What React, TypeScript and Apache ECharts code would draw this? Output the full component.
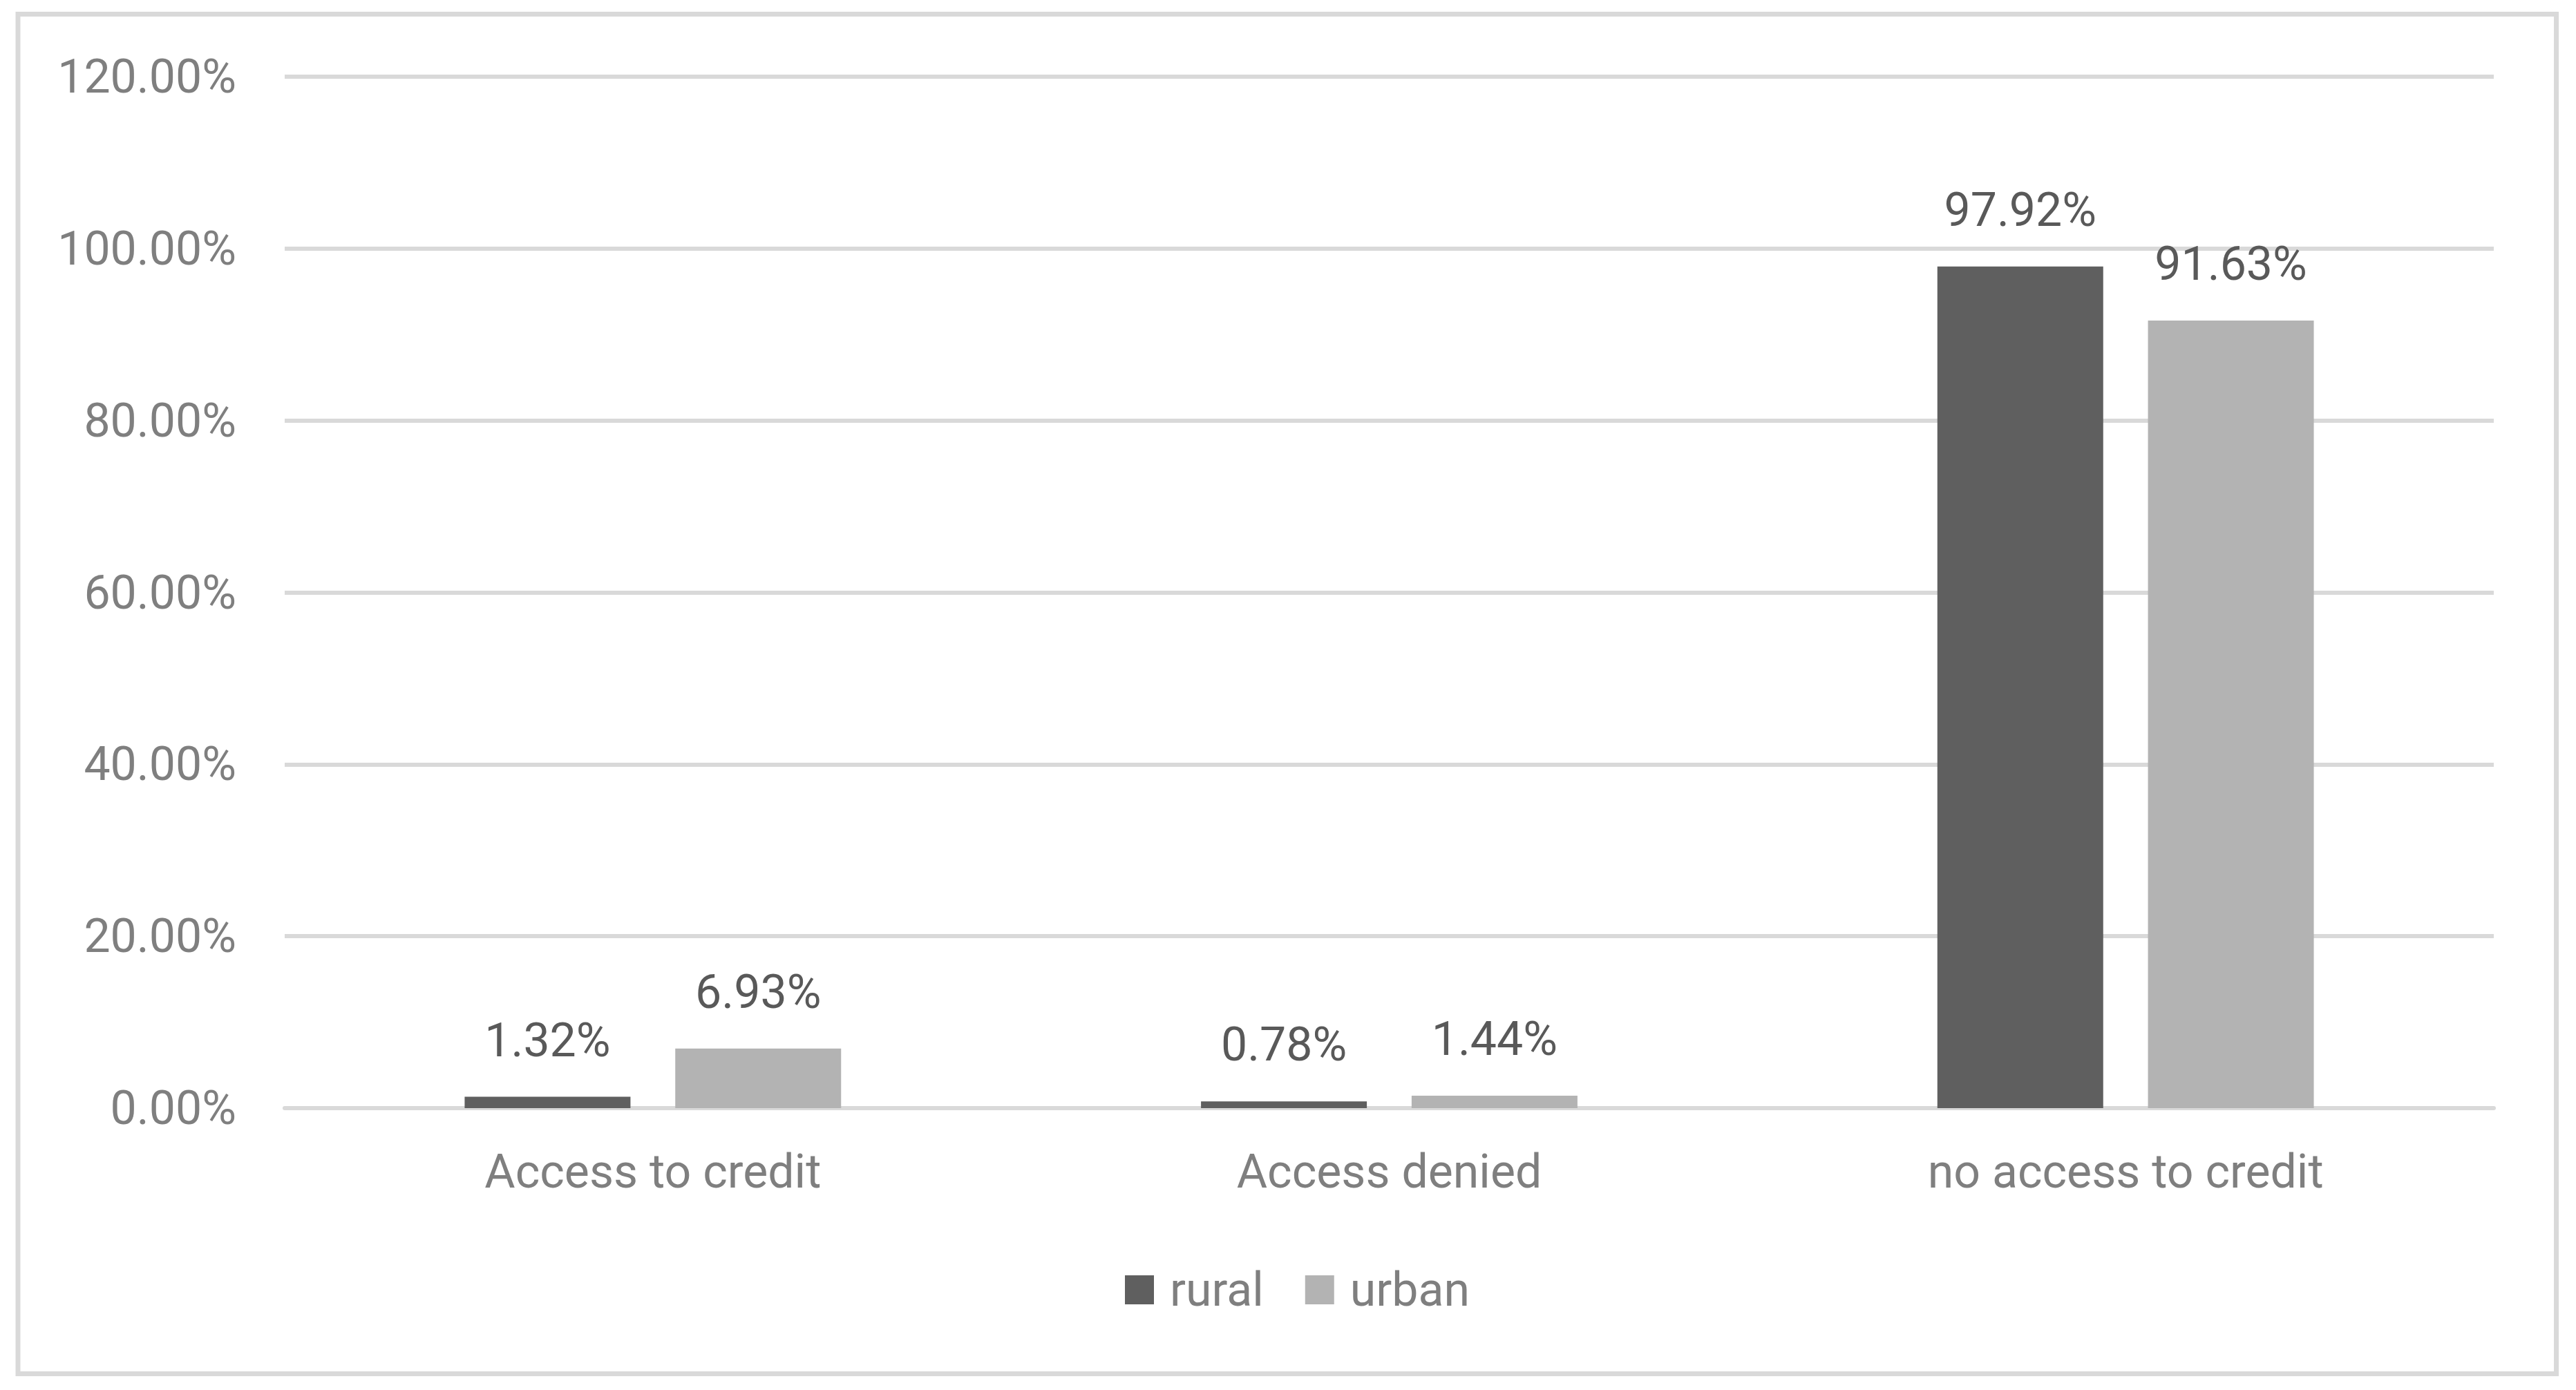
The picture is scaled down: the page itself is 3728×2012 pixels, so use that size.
import React, { useEffect, useRef } from "react";
import * as echarts from "echarts";

const categories = ["Access to credit", "Access denied", "no access to credit"];
const seriesNames = ["rural", "urban"];
const ruralValues = [1.32, 0.78, 97.92];
const urbanValues = [6.93, 1.44, 91.63];
const yTicks = { min: 0, max: 120, interval: 20 };
const colors = ["#5f5f5f", "#b3b3b3"];

const W = 3728;
const H = 2012;
const FONT = "Roboto";

export default function App() {
  const ref = useRef<HTMLDivElement>(null);
  useEffect(() => {
    if (!ref.current) return;
    const chart = echarts.init(ref.current, undefined, { renderer: "svg", width: W, height: H });
    const pct = (v: number) => `${Number(v).toFixed(2)}%`;
    const labelCfg = {
      show: true,
      position: "top",
      distance: 48,
      color: "#595959",
      fontSize: 68,
      fontFamily: FONT,
      formatter: (p: any) => pct(p.value),
    };
    chart.setOption({
      animation: false,
      backgroundColor: "#ffffff",
      grid: { left: 412, right: 119, top: 111, bottom: 408, containLabel: false },
      legend: {
        data: seriesNames,
        left: 1628,
        top: 1833,
        padding: 0,
        itemWidth: 42,
        itemHeight: 42,
        itemGap: 60,
        icon: "rect",
        textStyle: { color: "#7f7f7f", fontSize: 68, fontFamily: FONT, padding: [0, 0, 0, 18] },
      },
      xAxis: {
        type: "category",
        data: categories,
        axisLine: { show: true, lineStyle: { color: "#d9d9d9", width: 6 } },
        axisTick: { show: false },
        axisLabel: { color: "#7f7f7f", fontSize: 68, fontFamily: FONT, margin: 58 },
        splitLine: { show: false },
      },
      yAxis: {
        type: "value",
        min: yTicks.min,
        max: yTicks.max,
        interval: yTicks.interval,
        axisLine: { show: false },
        axisTick: { show: false },
        axisLabel: { color: "#7f7f7f", fontSize: 68, fontFamily: FONT, margin: 70, formatter: (v: number) => pct(v) },
        splitLine: { show: true, lineStyle: { color: "#d9d9d9", width: 6 } },
      },
      series: [
        {
          name: seriesNames[0],
          type: "bar",
          data: ruralValues,
          barWidth: 240,
          barGap: "27%",
          itemStyle: { color: colors[0] },
          label: labelCfg,
        },
        {
          name: seriesNames[1],
          type: "bar",
          data: urbanValues,
          barWidth: 240,
          barGap: "27%",
          itemStyle: { color: colors[1] },
          label: labelCfg,
        },
      ],
      graphic: [
        {
          type: "rect",
          shape: { x: 26, y: 20.5, width: 3673.5, height: 1968 },
          style: { fill: "none", stroke: "#d9d9d9", lineWidth: 7 },
          silent: true,
          z: 100,
        },
      ],
    });
    return () => chart.dispose();
  }, []);
  return (
    <div
      ref={ref}
      style={{ position: "fixed", left: 0, top: 0, width: W, height: H, background: "#fff" }}
    />
  );
}
